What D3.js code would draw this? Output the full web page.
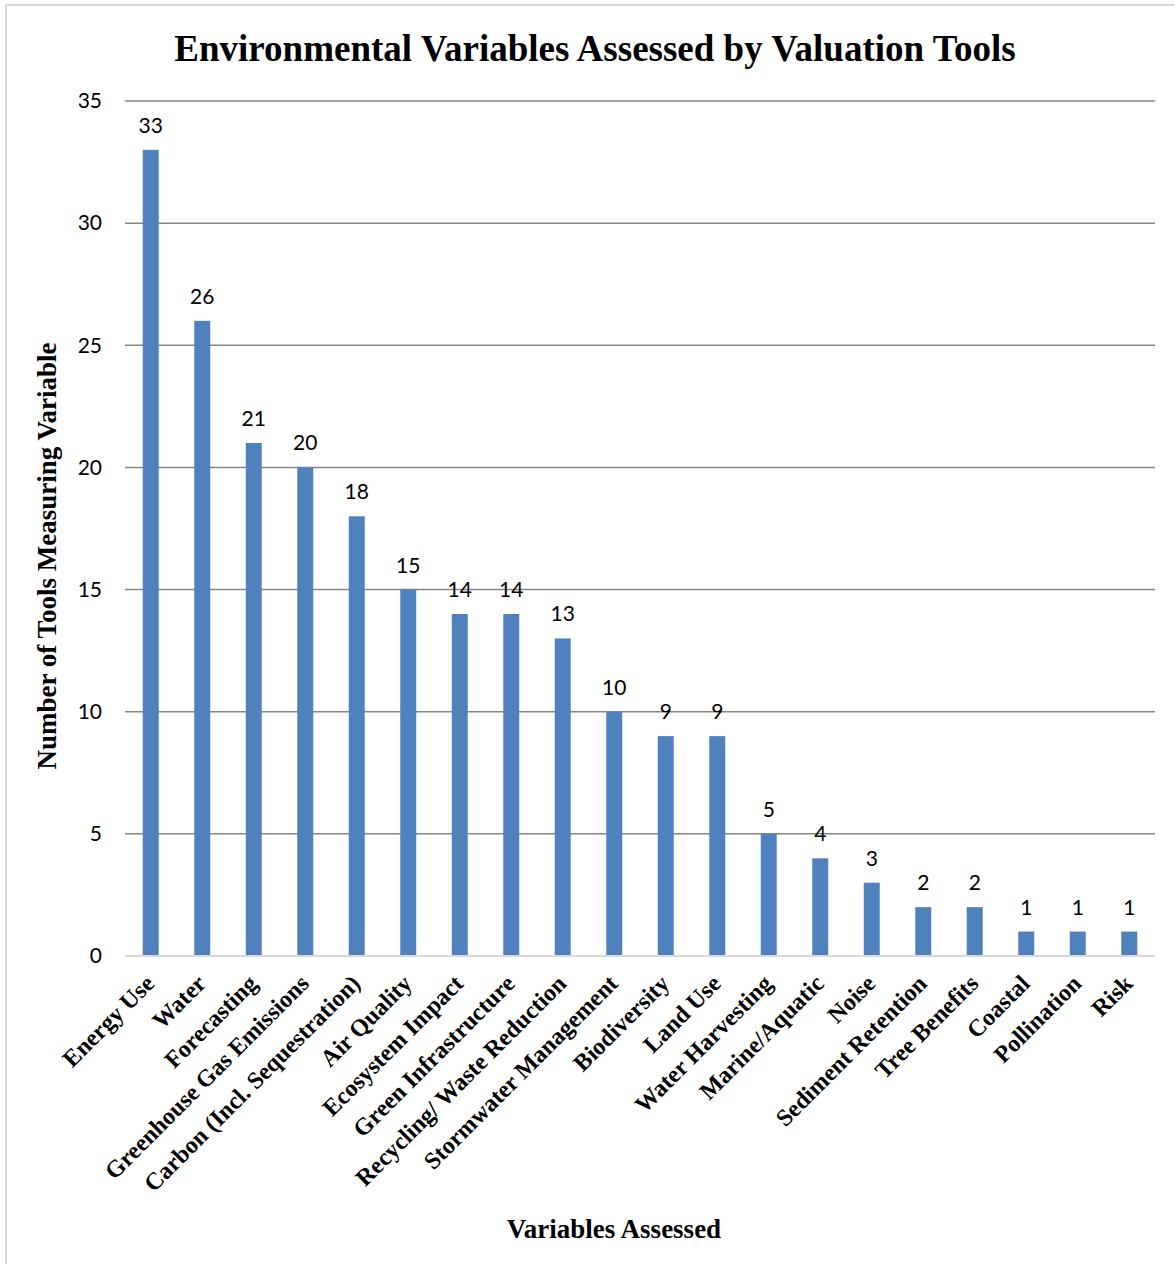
<!DOCTYPE html>
<html>
<head>
<meta charset="utf-8">
<script src="https://cdn.jsdelivr.net/npm/d3@7"></script>
<style>
  html, body { margin: 0; padding: 0; background: #fff; }
  svg { display: block; }
</style>
</head>
<body>
<svg id="chart" width="1175" height="1264"></svg>
<script>
// Variables assessed and the number of valuation tools measuring each
const categories = [
  "Energy Use", "Water", "Forecasting", "Greenhouse Gas Emissions",
  "Carbon (Incl. Sequestration)", "Air Quality", "Ecosystem Impact",
  "Green Infrastructure", "Recycling/ Waste Reduction", "Stormwater Management",
  "Biodiversity", "Land Use", "Water Harvesting", "Marine/Aquatic", "Noise",
  "Sediment Retention", "Tree Benefits", "Coastal", "Pollination", "Risk"
];
const toolCounts = [33, 26, 21, 20, 18, 15, 14, 14, 13, 10, 9, 9, 5, 4, 3, 2, 2, 1, 1, 1];
const yTicks = [0, 5, 10, 15, 20, 25, 30, 35];

const titleText = "Environmental Variables Assessed by Valuation Tools";
const yTitle = "Number of Tools Measuring Variable";
const xTitle = "Variables Assessed";

const svg = d3.select("#chart");
const W = 1175, H = 1264;
const plot = { left: 125, right: 1155, top: 101, bottom: 956 };
const serif = "'Liberation Serif', 'Times New Roman', serif";
const sans = "Lato, 'Open Sans', sans-serif";

// chart frame
svg.append("path")
  .attr("d", `M6,${H + 2} V5 H${W + 2}`)
  .attr("fill", "none")
  .attr("stroke", "#d9d9d9")
  .attr("stroke-width", 2);

const x = d3.scaleBand()
  .domain(categories)
  .range([plot.left, plot.right])
  .paddingInner(0.69)
  .paddingOuter(0.345);

const y = d3.scaleLinear()
  .domain([0, 35])
  .range([plot.bottom, plot.top]);

// horizontal gridlines
svg.append("g")
  .selectAll("line")
  .data(yTicks.filter(t => t > 0))
  .join("line")
  .attr("x1", plot.left)
  .attr("x2", plot.right)
  .attr("y1", d => y(d))
  .attr("y2", d => y(d))
  .attr("stroke", "#868686")
  .attr("stroke-width", 1.5);

// y-axis tick labels
const yAxis = d3.axisLeft(y).tickValues(yTicks).tickSize(0).tickPadding(23);
const yg = svg.append("g")
  .attr("transform", `translate(${plot.left},0)`)
  .call(yAxis);
yg.select(".domain").remove();
yg.selectAll("text")
  .attr("font-family", sans)
  .attr("font-size", 21)
  .attr("fill", "#000");

// bars
svg.append("g")
  .selectAll("rect")
  .data(categories)
  .join("rect")
  .attr("x", d => x(d))
  .attr("width", x.bandwidth())
  .attr("y", (d, i) => y(toolCounts[i]))
  .attr("height", (d, i) => y(0) - y(toolCounts[i]))
  .attr("fill", "#4f81bd");

// baseline
svg.append("line")
  .attr("x1", plot.left)
  .attr("x2", plot.right)
  .attr("y1", y(0))
  .attr("y2", y(0))
  .attr("stroke", "#d9d9d9")
  .attr("stroke-width", 2);

// value labels
svg.append("g")
  .selectAll("text")
  .data(categories)
  .join("text")
  .attr("x", d => x(d) + x.bandwidth() / 2)
  .attr("y", (d, i) => y(toolCounts[i]) - 17)
  .attr("text-anchor", "middle")
  .attr("font-family", sans)
  .attr("font-size", 21)
  .attr("fill", "#000")
  .text((d, i) => toolCounts[i]);

// category labels rotated 45 degrees
svg.append("g")
  .selectAll("text")
  .data(categories)
  .join("text")
  .attr("transform", d => `translate(${x(d) + x.bandwidth() / 2 + 5},${plot.bottom + 29}) rotate(-45)`)
  .attr("text-anchor", "end")
  .attr("font-family", serif)
  .attr("font-weight", "bold")
  .attr("font-size", 24)
  .attr("fill", "#000")
  .text(d => d);

// chart title
svg.append("text")
  .attr("x", 595)
  .attr("y", 61)
  .attr("text-anchor", "middle")
  .attr("font-family", serif)
  .attr("font-weight", "bold")
  .attr("font-size", 37)
  .text(titleText);

// y-axis title
svg.append("text")
  .attr("transform", `translate(56,556) rotate(-90)`)
  .attr("text-anchor", "middle")
  .attr("font-family", serif)
  .attr("font-weight", "bold")
  .attr("font-size", 27)
  .text(yTitle);

// x-axis title
svg.append("text")
  .attr("x", 614)
  .attr("y", 1238)
  .attr("text-anchor", "middle")
  .attr("font-family", serif)
  .attr("font-weight", "bold")
  .attr("font-size", 27)
  .text(xTitle);
</script>
</body>
</html>
